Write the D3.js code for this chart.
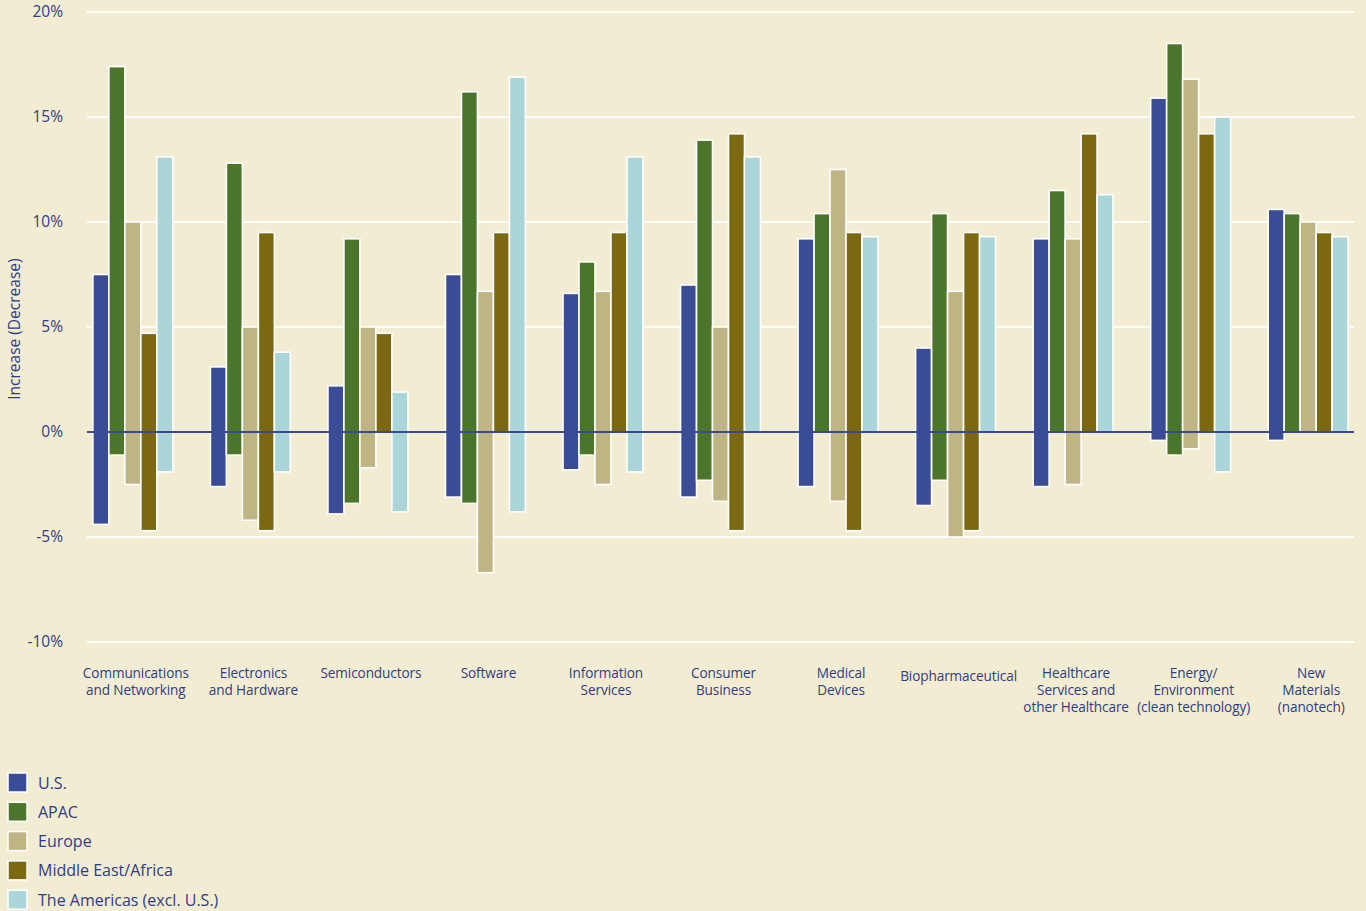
<!DOCTYPE html>
<html>
<head>
<meta charset="utf-8">
<script src="https://cdn.jsdelivr.net/npm/d3@7"></script>
<style>
  html, body { margin: 0; padding: 0; background: #f2ecd2; }
  svg text { font-family: "Open Sans", "Noto Sans", sans-serif; fill: #2f3d84; }
</style>
</head>
<body>
<script>
// Categories along the x axis (line breaks as in the original)
const categories = [
    ["Communications", "and Networking"],
    ["Electronics", "and Hardware"],
    ["Semiconductors"],
    ["Software"],
    ["Information", "Services"],
    ["Consumer", "Business"],
    ["Medical", "Devices"],
    ["Biopharmaceutical"],
    ["Healthcare", "Services and", "other Healthcare"],
    ["Energy/", "Environment", "(clean technology)"],
    ["New", "Materials", "(nanotech)"]
];

const seriesNames = ["U.S.", "APAC", "Europe", "Middle East/Africa", "The Americas (excl. U.S.)"];
const seriesColors = ["#3b4c97", "#4b752a", "#bfb484", "#7c6811", "#aad5d9"];

// Increase (top of each bar), % per category
const usUp       = [7.5, 3.1, 2.2, 7.5, 6.6, 7.0, 9.2, 4.0, 9.2, 15.9, 10.6];
const apacUp     = [17.4, 12.8, 9.2, 16.2, 8.1, 13.9, 10.4, 10.4, 11.5, 18.5, 10.4];
const europeUp   = [10.0, 5.0, 5.0, 6.7, 6.7, 5.0, 12.5, 6.7, 9.2, 16.8, 10.0];
const meaUp      = [4.7, 9.5, 4.7, 9.5, 9.5, 14.2, 9.5, 9.5, 14.2, 14.2, 9.5];
const americasUp = [13.1, 3.8, 1.9, 16.9, 13.1, 13.1, 9.3, 9.3, 11.3, 15.0, 9.3];

// Decrease (bottom of each bar), % per category
const usDown       = [-4.4, -2.6, -3.9, -3.1, -1.8, -3.1, -2.6, -3.5, -2.6, -0.4, -0.4];
const apacDown     = [-1.1, -1.1, -3.4, -3.4, -1.1, -2.3, 0, -2.3, 0, -1.1, 0];
const europeDown   = [-2.5, -4.2, -1.7, -6.7, -2.5, -3.3, -3.3, -5.0, -2.5, -0.8, 0];
const meaDown      = [-4.7, -4.7, 0, 0, 0, -4.7, -4.7, -4.7, 0, 0, 0];
const americasDown = [-1.9, -1.9, -3.8, -3.8, -1.9, 0, 0, 0, 0, -1.9, 0];

const yTicks = [-10, -5, 0, 5, 10, 15, 20];

const upValues = [usUp, apacUp, europeUp, meaUp, americasUp];
const downValues = [usDown, apacDown, europeDown, meaDown, americasDown];

const width = 1366, height = 911;
const plot = {left: 87, right: 1354, top: 12, bottom: 642};

// Build a flat list of bars: one range bar per series per category
let bars = [];
categories.forEach((cat, ci) => {
    seriesNames.forEach((s, si) => {
        bars.push({cat: ci, series: si, up: upValues[si][ci], down: downValues[si][ci]});
    });
});

const svg = d3.select("body").append("svg")
    .attr("width", width)
    .attr("height", height);

svg.append("rect")
    .attr("width", width).attr("height", height)
    .attr("fill", "#f2ecd2");

let yScale = d3.scaleLinear()
    .domain([-10, 20])
    .range([plot.bottom, plot.top]);

let xScale = d3.scaleBand()
    .domain(d3.range(categories.length))
    .range([plot.left, plot.right])
    .paddingInner(0.32)
    .paddingOuter(0.05);

let xInner = d3.scaleBand()
    .domain(d3.range(seriesNames.length))
    .range([0, xScale.bandwidth()]);

// Grid lines (white)
svg.append("g")
    .selectAll("line")
    .data(yTicks.filter(t => t !== 0))
    .enter().append("line")
    .attr("x1", plot.left).attr("x2", plot.right)
    .attr("y1", d => yScale(d)).attr("y2", d => yScale(d))
    .attr("stroke", "#ffffff")
    .attr("stroke-width", 2);

// Y axis tick labels
let yAxis = d3.axisLeft(yScale)
    .tickValues(yTicks)
    .tickSize(0)
    .tickPadding(0)
    .tickFormat(d => d + "%");

svg.append("g")
    .attr("class", "y axis")
    .attr("transform", "translate(63,0)")
    .call(yAxis)
    .call(g => g.select(".domain").remove())
    .selectAll("text")
    .attr("font-size", 15.5)
    .style("fill", "#2f3d84");

svg.append("text")
    .attr("transform", "translate(20," + yScale(4.9) + ") rotate(-90)")
    .attr("text-anchor", "middle")
    .attr("font-size", 15.5)
    .text("Increase (Decrease)");

// Range bars
svg.append("g")
    .selectAll("rect")
    .data(bars)
    .enter().append("rect")
    .attr("x", d => xScale(d.cat) + xInner(d.series))
    .attr("width", xInner.bandwidth())
    .attr("y", d => yScale(d.up))
    .attr("height", d => yScale(d.down) - yScale(d.up))
    .attr("fill", d => seriesColors[d.series])
    .attr("stroke", "#ffffff")
    .attr("stroke-width", 1.6);

// Zero line drawn over the bars
svg.append("line")
    .attr("x1", plot.left).attr("x2", plot.right)
    .attr("y1", yScale(0)).attr("y2", yScale(0))
    .attr("stroke", "#3b4a8f")
    .attr("stroke-width", 2);

// Category labels
let catLabels = svg.append("g")
    .selectAll("text")
    .data(categories)
    .enter().append("text")
    .attr("text-anchor", "middle")
    .attr("font-size", 13.6)
    .attr("letter-spacing", -0.1)
    .attr("transform", (d, i) =>
        "translate(" + (xScale(i) + xScale.bandwidth() / 2 + 3) + "," + (d.length === 1 && i === 7 ? 681 : 678) + ")");

catLabels.selectAll("tspan")
    .data(d => d)
    .enter().append("tspan")
    .attr("x", 0)
    .attr("dy", (d, i) => i === 0 ? 0 : 17)
    .text(d => d);

// Legend
let legend = svg.append("g")
    .selectAll("g")
    .data(seriesNames)
    .enter().append("g")
    .attr("transform", (d, i) => "translate(8," + (773 + i * 29.3) + ")");

legend.append("rect")
    .attr("width", 19).attr("height", 19)
    .attr("fill", (d, i) => seriesColors[i])
    .attr("stroke", "#ffffff")
    .attr("stroke-width", 1.5);

legend.append("text")
    .attr("x", 30).attr("y", 15.5)
    .attr("font-size", 16)
    .text(d => d);
</script>
</body>
</html>
